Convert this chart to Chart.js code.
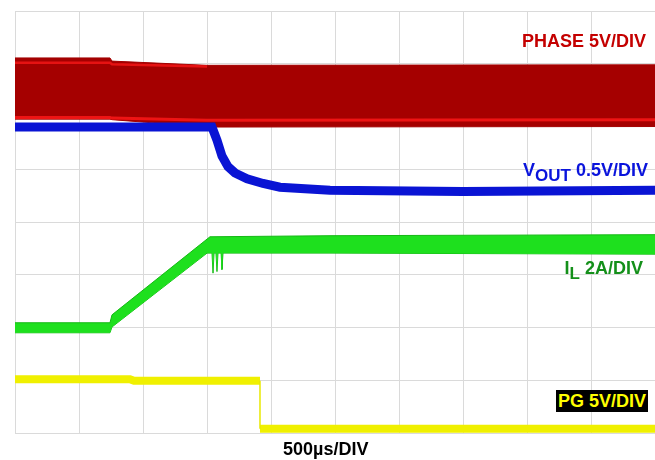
<!DOCTYPE html>
<html>
<head>
<meta charset="utf-8">
<script src="https://cdn.jsdelivr.net/npm/chart.js@4/dist/chart.umd.min.js"></script>
<style>
  html, body { margin: 0; padding: 0; background: #fff; }
  #wrap { position: relative; width: 655px; height: 460px; overflow: hidden; }
  canvas { position: absolute; left: 0; top: 0; }
  .lbl { position: absolute; font: bold 18px "Liberation Sans", Arial, sans-serif; line-height: 18px; white-space: nowrap; }
  .lbl sub { font-size: 17px; vertical-align: -5px; line-height: 0; }
</style>
</head>
<body>
<div id="wrap">
  <canvas id="scope" width="655" height="460"></canvas>
  <div class="lbl" style="right:9px; top:32px; color:#C40000;">PHASE 5V/DIV</div>
  <div class="lbl" style="right:7px; top:161px; color:#0A14DC;">V<sub>OUT</sub> 0.5V/DIV</div>
  <div class="lbl" style="right:12px; top:259px; color:#14901A;">I<sub>L</sub> 2A/DIV</div>
  <div class="lbl" style="left:556px; top:390px; width:92px; height:22px; background:#000; color:#FFFF00; text-align:center; line-height:22px;">PG 5V/DIV</div>
  <div class="lbl" style="left:283px; top:440px; color:#000;">500µs/DIV</div>
</div>
<script>
// tiempo en µs (10 div x 500 µs), niveles en divisiones (0..8)
var TIEMPO_PHASE = [0, 742, 758, 1500, 5000];
var PHASE_ALTO = [7.11, 7.11, 7.05, 6.97, 6.98];
var PHASE_BAJO = [5.95, 5.95, 5.94, 5.80, 5.81];
var TIEMPO_FRANJA_ALTA = [0, 742, 758, 1500];
var FRANJA_ALTA = [7.02, 7.02, 6.99, 6.95];
var FRANJA_BAJA = [5.98, 5.98, 5.97, 5.93, 5.94];

var TIEMPO_VOUT = [0, 1539, 1578, 1617, 1664, 1719, 1813, 1938, 2070, 2461, 3500, 5000];
var VOUT = [5.80, 5.80, 5.55, 5.25, 5.05, 4.93, 4.82, 4.73, 4.66, 4.60, 4.58, 4.60];

var TIEMPO_IL_ALTO = [0, 742, 758, 1523, 2461, 5000];
var IL_ALTO = [2.09, 2.09, 2.24, 3.72, 3.74, 3.76];
var TIEMPO_IL_BAJO = [0, 742, 758, 1500, 1539, 1547, 1555, 1570, 1578, 1586, 1610, 1617, 1625, 2461, 5000];
var IL_BAJO = [1.90, 1.90, 2.01, 3.41, 3.41, 3.03, 3.41, 3.41, 3.06, 3.41, 3.41, 3.10, 3.41, 3.41, 3.39];

var TIEMPO_PG_ALTO = [0, 898, 930, 1914];
var PG_ALTO = [1.02, 1.02, 0.99, 0.99];
var TIEMPO_PG_BAJO = [1914, 5000];
var PG_BAJO = [0.08, 0.08];
var TIEMPO_PG_FLANCO = [1914, 1914];
var PG_FLANCO = [0.99, 0.08];

function puntos_(tiempos, valores) {
  return tiempos.map(function (t, i) { return { x: t, y: valores[i] }; });
}

function traza_(tiempos, valores, color, ancho, extra) {
  var ds = {
    data: puntos_(tiempos, valores),
    borderColor: color,
    borderWidth: ancho,
    pointRadius: 0,
    tension: 0,
    fill: false,
    borderCapStyle: 'butt'
  };
  if (extra) {
    Object.keys(extra).forEach(function (k) { ds[k] = extra[k]; });
  }
  return ds;
}

var datasets = [
  traza_(TIEMPO_PG_FLANCO, PG_FLANCO, '#E8E800', 1.5),
  traza_(TIEMPO_PG_ALTO, PG_ALTO, '#F0F000', 8),
  traza_(TIEMPO_PG_BAJO, PG_BAJO, '#F0F000', 8),
  traza_(TIEMPO_IL_ALTO, IL_ALTO, '#14B814', 1, { fill: '+1', backgroundColor: '#1EE01E' }),
  traza_(TIEMPO_IL_BAJO, IL_BAJO, '#14B814', 1),
  traza_(TIEMPO_VOUT, VOUT, '#0A14D4', 9),
  traza_(TIEMPO_FRANJA_ALTA, FRANJA_ALTA, '#E61212', 2.5),
  traza_(TIEMPO_PHASE, FRANJA_BAJA, '#EE1414', 3),
  traza_(TIEMPO_PHASE, PHASE_ALTO, '#A30000', 1, { fill: '+1', backgroundColor: '#A50000' }),
  traza_(TIEMPO_PHASE, PHASE_BAJO, '#A30000', 1)
];

var grilla = '#DADADA';

new Chart(document.getElementById('scope'), {
  type: 'line',
  data: { datasets: datasets },
  options: {
    responsive: false,
    animation: false,
    layout: { padding: { left: 15, top: 11, right: 0, bottom: 27 } },
    plugins: { legend: { display: false }, tooltip: { enabled: false } },
    scales: {
      x: {
        type: 'linear', min: 0, max: 5000,
        ticks: { display: false, stepSize: 500 },
        grid: { color: grilla, lineWidth: 1, drawTicks: false },
        border: { display: true, color: grilla }
      },
      y: {
        type: 'linear', min: 0, max: 8,
        ticks: { display: false, stepSize: 1 },
        grid: { color: grilla, lineWidth: 1, drawTicks: false },
        border: { display: true, color: grilla }
      }
    }
  }
});
</script>
</body>
</html>
